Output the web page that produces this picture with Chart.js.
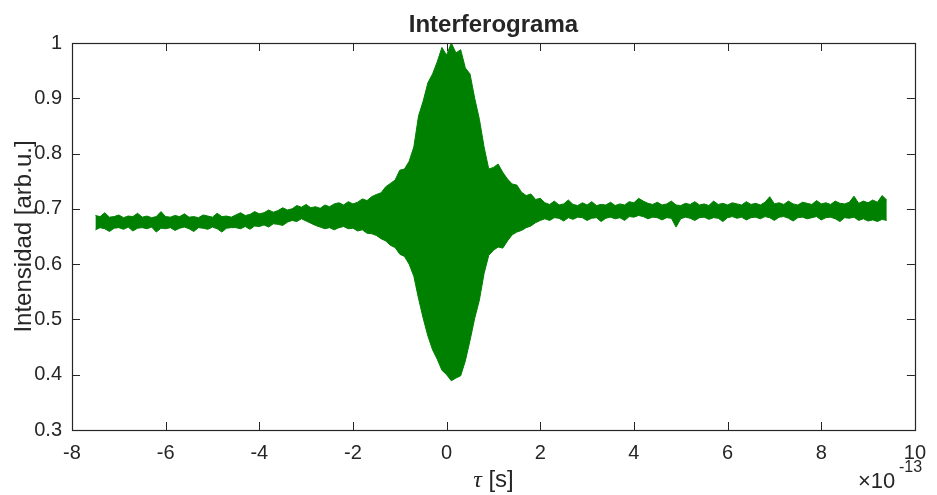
<!DOCTYPE html>
<html>
<head>
<meta charset="utf-8">
<script src="https://cdn.jsdelivr.net/npm/chart.js@4"></script>
<style>
  html, body { margin: 0; padding: 0; background: #fff; }
  canvas { display: block; }
</style>
</head>
<body>
<canvas id="myChart" width="937" height="495"></canvas>
<script>
// tau sampled every 0.1 (x1e-13 s) from -7.5 to 9.4
const tauStart = -7.5;
const tauStep = 0.1;

// upper edge of the signal band
const upper = [
    0.688, 0.686, 0.693, 0.685, 0.686, 0.689, 0.684, 0.687, 0.686, 0.692,
    0.685, 0.687, 0.684, 0.686, 0.695, 0.686, 0.685, 0.688, 0.686, 0.691,
    0.685, 0.686, 0.684, 0.689, 0.687, 0.685, 0.692, 0.686, 0.687, 0.685,
    0.689, 0.693, 0.688, 0.690, 0.695, 0.691, 0.693, 0.698, 0.694, 0.697,
    0.702, 0.698, 0.700, 0.706, 0.703, 0.708, 0.702, 0.704, 0.701, 0.707,
    0.704, 0.709,
    0.711, 0.707, 0.713, 0.709, 0.712, 0.718, 0.715, 0.722, 0.726, 0.729,
    0.740, 0.746, 0.752, 0.770, 0.772, 0.786, 0.812, 0.868, 0.895, 0.928,
    0.944, 0.966, 0.992, 0.978, 1.000, 0.982, 0.988, 0.955, 0.944, 0.900,
    0.862, 0.812, 0.772, 0.775, 0.781, 0.766, 0.754, 0.745, 0.743, 0.730,
    0.724, 0.727, 0.717, 0.719,
    0.711, 0.708, 0.714, 0.707, 0.709, 0.716, 0.708, 0.706, 0.711, 0.707,
    0.713, 0.706, 0.708, 0.707, 0.712, 0.706, 0.709, 0.707, 0.713, 0.711,
    0.719, 0.714, 0.710, 0.708, 0.712, 0.707, 0.709, 0.714, 0.707, 0.706,
    0.710, 0.708, 0.713, 0.707, 0.709, 0.706, 0.714, 0.708, 0.710, 0.707,
    0.711, 0.709, 0.707, 0.713, 0.708, 0.710, 0.707, 0.712, 0.722, 0.709,
    0.711, 0.708, 0.714, 0.709, 0.707, 0.712, 0.710, 0.708, 0.715, 0.709,
    0.711, 0.708, 0.714, 0.710, 0.709, 0.712, 0.723, 0.710, 0.714, 0.711,
    0.716, 0.712, 0.724, 0.716
];

// lower edge of the signal band
const lower = [
    0.662, 0.666, 0.664, 0.659, 0.665, 0.666, 0.663, 0.667, 0.660, 0.665,
    0.666, 0.664, 0.667, 0.658, 0.665, 0.664, 0.666, 0.661, 0.665, 0.667,
    0.664, 0.659, 0.666, 0.665, 0.663, 0.667, 0.664, 0.658, 0.665, 0.666,
    0.666, 0.664, 0.668, 0.663, 0.669, 0.668, 0.671, 0.667, 0.673, 0.672,
    0.670, 0.676, 0.679, 0.677, 0.682, 0.678, 0.674, 0.670, 0.667, 0.664,
    0.666, 0.662,
    0.666, 0.668, 0.664, 0.665, 0.660, 0.662, 0.656, 0.655, 0.652, 0.646,
    0.642, 0.634, 0.630, 0.618, 0.614, 0.600, 0.578, 0.538, 0.502, 0.470,
    0.445, 0.428, 0.408, 0.400, 0.389, 0.394, 0.398, 0.425, 0.462, 0.502,
    0.535, 0.583, 0.616, 0.625, 0.631, 0.629, 0.642, 0.653, 0.658, 0.661,
    0.666, 0.669, 0.675, 0.679,
    0.682, 0.679, 0.684, 0.683, 0.678, 0.684, 0.681, 0.685, 0.684, 0.679,
    0.683, 0.684, 0.677, 0.683, 0.685, 0.682, 0.684, 0.679, 0.686, 0.685,
    0.688, 0.686, 0.682, 0.685, 0.684, 0.680, 0.684, 0.683, 0.667, 0.682,
    0.685, 0.683, 0.679, 0.684, 0.685, 0.681, 0.684, 0.683, 0.677, 0.684,
    0.686, 0.683, 0.685, 0.680, 0.684, 0.685, 0.682, 0.686, 0.684, 0.679,
    0.685, 0.686, 0.683, 0.678, 0.684, 0.685, 0.682, 0.684, 0.686, 0.680,
    0.684, 0.685, 0.682, 0.677, 0.684, 0.683, 0.685, 0.679, 0.682, 0.678,
    0.680, 0.677, 0.681, 0.679
];

const xTicks = [-8, -6, -4, -2, 0, 2, 4, 6, 8, 10];
const yTicks = [0.3, 0.4, 0.5, 0.6, 0.7, 0.8, 0.9, 1];

const tau = upper.map((_, i) => +(tauStart + i * tauStep).toFixed(1));
const axisColor = '#262626';
const green = 'rgb(0, 128, 0)';

// box, inner ticks and the MATLAB-like texts
const matlabFrame = {
    id: 'matlabFrame',
    afterDraw(chart) {
        const ctx = chart.ctx;
        const a = chart.chartArea;
        const xs = chart.scales.x;
        const ys = chart.scales.y;
        const tl = 8;
        ctx.save();
        ctx.strokeStyle = axisColor;
        ctx.lineWidth = 1;
        ctx.beginPath();
        xTicks.forEach(v => {
            const px = Math.round(xs.getPixelForValue(v)) + 0.5;
            ctx.moveTo(px, a.bottom); ctx.lineTo(px, a.bottom - tl);
            ctx.moveTo(px, a.top); ctx.lineTo(px, a.top + tl);
        });
        yTicks.forEach(v => {
            const py = Math.round(ys.getPixelForValue(v)) + 0.5;
            ctx.moveTo(a.left, py); ctx.lineTo(a.left + tl, py);
            ctx.moveTo(a.right, py); ctx.lineTo(a.right - tl, py);
        });
        ctx.stroke();
        ctx.lineWidth = 1.2;
        ctx.strokeRect(Math.round(a.left) + 0.5, Math.round(a.top) + 0.5,
                       Math.round(a.right - a.left), Math.round(a.bottom - a.top));

        ctx.fillStyle = axisColor;
        // title
        ctx.font = 'bold 24px "Liberation Sans"';
        ctx.textAlign = 'center';
        ctx.textBaseline = 'alphabetic';
        ctx.fillText('Interferograma', (a.left + a.right) / 2, 32);

        // y label
        ctx.save();
        ctx.translate(31, (a.top + a.bottom) / 2);
        ctx.rotate(-Math.PI / 2);
        ctx.font = '24px "Liberation Sans"';
        ctx.fillText('Intensidad [arb.u.]', 0, 0);
        ctx.restore();

        // x label: italic tau + [s]
        const cx = (a.left + a.right) / 2;
        ctx.textAlign = 'left';
        ctx.font = 'italic 24px "Liberation Serif"';
        const wT = ctx.measureText('τ').width;
        ctx.font = '24px "Liberation Sans"';
        const wS = ctx.measureText(' [s]').width;
        const x0 = cx - (wT + wS) / 2;
        ctx.font = 'italic 24px "Liberation Serif"';
        ctx.fillText('τ', x0, 487);
        ctx.font = '24px "Liberation Sans"';
        ctx.fillText(' [s]', x0 + wT, 487);

        // exponent
        ctx.font = '22px "Liberation Sans"';
        ctx.fillText('×10', 858, 488);
        ctx.font = '16px "Liberation Sans"';
        ctx.fillText('-13', 899, 472);
        ctx.restore();
    }
};

const config = {
    type: 'line',
    data: {
        labels: tau,
        datasets: [
            {
                label: 'upper',
                data: tau.map((t, i) => ({ x: t, y: upper[i] })),
                borderColor: green,
                backgroundColor: green,
                borderWidth: 1,
                pointRadius: 0,
                fill: '+1',
                tension: 0
            },
            {
                label: 'lower',
                data: tau.map((t, i) => ({ x: t, y: lower[i] })),
                borderColor: green,
                backgroundColor: green,
                borderWidth: 1,
                pointRadius: 0,
                fill: false,
                tension: 0
            }
        ]
    },
    options: {
        responsive: false,
        animation: false,
        layout: {
            padding: { top: 43, right: 21, left: 0, bottom: 0 }
        },
        scales: {
            x: {
                type: 'linear',
                min: -8,
                max: 10,
                afterBuildTicks: scale => { scale.ticks = xTicks.map(v => ({ value: v })); },
                afterFit: scale => { scale.height = 65; },
                grid: { display: false, drawTicks: false, tickLength: 0 },
                border: { display: false },
                ticks: {
                    color: axisColor,
                    padding: 11,
                    maxRotation: 0,
                    font: { size: 20, family: 'Liberation Sans' },
                    callback: v => String(v)
                }
            },
            y: {
                min: 0.3,
                max: 1,
                afterBuildTicks: scale => { scale.ticks = yTicks.map(v => ({ value: v })); },
                afterFit: scale => { scale.width = 72; },
                grid: { display: false, drawTicks: false, tickLength: 0 },
                border: { display: false },
                ticks: {
                    color: axisColor,
                    padding: 10,
                    font: { size: 20, family: 'Liberation Sans' },
                    callback: v => (v === 1 ? '1' : v.toFixed(1))
                }
            }
        },
        plugins: {
            legend: { display: false },
            tooltip: { enabled: false },
            title: { display: false }
        }
    },
    plugins: [matlabFrame]
};

new Chart(document.getElementById('myChart').getContext('2d'), config);
</script>
</body>
</html>
